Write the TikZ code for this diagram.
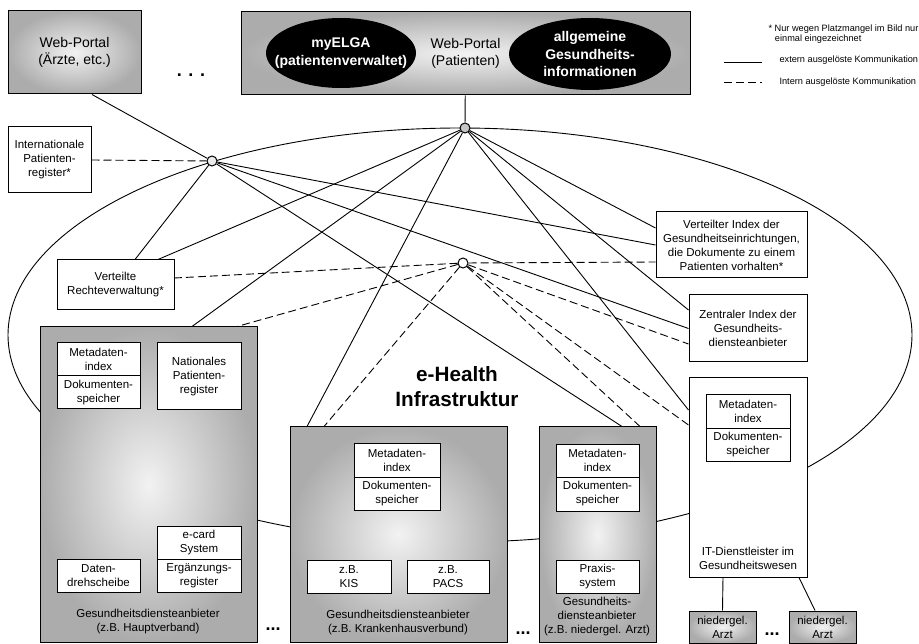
\documentclass[tikz,border=0pt]{standalone}
\usepackage{fontspec}
\setmainfont{Liberation Sans}
\usepackage{tikz}
\usetikzlibrary{shapes.geometric,calc}
\pgfdeclarelayer{background}
\pgfsetlayers{background,main}
\newcommand{\smalltext}{\fontsize{11.5}{14}\selectfont}
\newcommand{\bigtext}{\fontsize{14}{17.5}\selectfont}
\newcommand{\legendtext}{\fontsize{9.2}{10.5}\selectfont}
\newcommand{\headtext}{\fontsize{20.7}{25}\selectfont\bfseries}

\begin{document}
\begin{tikzpicture}[x=1pt,y=-1pt]
\tikzstyle{box}=[draw,line width=1pt,fill=white,align=center,inner sep=0pt,font=\smalltext]
\tikzstyle{greybox}=[draw,line width=1pt,align=center,inner sep=0pt,font=\smalltext,shade,inner color=gray!10,outer color=gray!65]
\tikzstyle{hub}=[circle,draw,line width=1pt,inner sep=0pt,minimum size=10pt]
\tikzstyle{extern}=[line width=0.9pt]
\tikzstyle{intern}=[line width=0.9pt,dash pattern=on 8pt off 4pt]
\tikzstyle{more}=[font=\fontsize{18}{18}\selectfont\bfseries]
\tikzstyle{blob}=[ellipse,fill=black,inner sep=0pt]
\useasboundingbox (0,0) rectangle (919,644);

% web portals
\node[greybox,font=\bigtext,minimum width=133pt,minimum height=83pt] (webA) at (74.5,52.5) {Web-Portal\\(Ärzte, etc.)};
\node[more] (moreA) at (191,75) {. . .};
\node[greybox,font=\bigtext,minimum width=449pt,minimum height=83pt] (webP) at (465.5,53.5) {Web-Portal\\(Patienten)};
\node[blob,minimum width=150pt,minimum height=70pt] (myelga) at (341,53) {};
\node[font=\bigtext\bfseries,text=white,align=center] (myelgaT) at (myelga) {myELGA\\(patientenverwaltet)};
\node[blob,minimum width=162pt,minimum height=72pt] (info) at (590,54) {};
\node[font=\bigtext\bfseries,text=white,align=center] (infoT) at (info) {allgemeine\\Gesundheits-\\informationen};

% legend
\node[font=\legendtext,align=left,anchor=north west] (note) at (765,21) {* Nur wegen Platzmangel im Bild nur\\\hspace*{0.7em}einmal eingezeichnet};
\coordinate (extA) at (724,62);
\coordinate (extB) at (762,62);
\node[font=\legendtext,anchor=west] (extT) at (776,60) {extern ausgelöste Kommunikation};
\coordinate (intA) at (724,82);
\coordinate (intB) at (762,82);
\node[font=\legendtext,anchor=west] (intT) at (776,82) {Intern ausgelöste Kommunikation};
\draw[extern] (extA) -- (extB);
\draw[intern] (intA) -- (intB);

% hubs
\node[hub,fill=gray!45] (hubP) at (465,128) {};
\node[hub,fill=gray!15] (hubL) at (212,161) {};
\node[hub,fill=white] (hubM) at (463,263) {};

% central services
\node[box,minimum width=83pt,minimum height=66pt] (intl) at (49.5,160) {Internationale\\Patienten-\\register*};
\node[box,minimum width=117pt,minimum height=50pt] (recht) at (115.5,285) {Verteilte\\Rechteverwaltung*};
\node[box,minimum width=151pt,minimum height=66pt] (vidx) at (731.5,245) {Verteilter Index der\\Gesundheitseinrichtungen,\\die Dokumente zu einem\\Patienten vorhalten*};
\node[box,minimum width=118pt,minimum height=67pt] (zidx) at (748,328.5) {Zentraler Index der\\Gesundheits-\\diensteanbieter};
\node[font=\headtext,align=center] (ehealth) at (457,387) {e-Health\\Infrastruktur};

% IT-Dienstleister
\node[box,minimum width=118pt,minimum height=199pt] (itd) at (748,477.5) {};
\node[box,minimum width=84pt,minimum height=33.5pt] (meta4) at (748,411.5) {Metadaten-\\index};
\node[box,minimum width=84pt,minimum height=33.5pt] (doc4) at (748,445) {Dokumenten-\\speicher};
\node[font=\smalltext,align=center] (itdT) at (748,558) {IT-Dienstleister im\\Gesundheitswesen};
\node[greybox,minimum width=67pt,minimum height=32pt] (arzt1) at (722.5,627) {niedergel.\\Arzt};
\node[more] (moreD) at (772,634) {...};
\node[greybox,minimum width=67pt,minimum height=32pt] (arzt2) at (822.5,627) {niedergel.\\Arzt};

% Hauptverband
\node[greybox,minimum width=217pt,minimum height=315pt] (gsd1) at (148.5,484.5) {};
\node[box,minimum width=83pt,minimum height=33pt] (meta1) at (98.5,359.5) {Metadaten-\\index};
\node[box,minimum width=83pt,minimum height=33pt] (doc1) at (98.5,392.5) {Dokumenten-\\speicher};
\node[box,minimum width=84pt,minimum height=67pt] (npr) at (199,376.5) {Nationales\\Patienten-\\register};
\node[box,minimum width=83pt,minimum height=33pt] (dd) at (98.5,575.5) {Daten-\\drehscheibe};
\node[box,minimum width=84pt,minimum height=33pt] (ecard) at (199,542.5) {e-card\\System};
\node[box,minimum width=84pt,minimum height=33pt] (erg) at (199,575.5) {Ergänzungs-\\register};
\node[font=\smalltext,align=center] (gsd1T) at (148,622) {Gesundheitsdiensteanbieter\\(z.B. Hauptverband)};
\node[more] (moreB) at (273,629) {...};

% Krankenhausverbund
\node[greybox,minimum width=217pt,minimum height=215pt] (gsd2) at (398.5,534.5) {};
\node[box,minimum width=86pt,minimum height=34pt] (meta2) at (397,460) {Metadaten-\\index};
\node[box,minimum width=86pt,minimum height=33pt] (doc2) at (397,493.5) {Dokumenten-\\speicher};
\node[box,minimum width=84pt,minimum height=33pt] (kis) at (349,576.5) {z.B.\\KIS};
\node[box,minimum width=82pt,minimum height=33pt] (pacs) at (448,576.5) {z.B.\\PACS};
\node[font=\smalltext,align=center] (gsd2T) at (398,623) {Gesundheitsdiensteanbieter\\(z.B. Krankenhausverbund)};
\node[more] (moreC) at (523,633) {...};

% niedergelassener Arzt
\node[greybox,minimum width=117pt,minimum height=215pt] (gsd3) at (597.5,534.5) {};
\node[box,minimum width=83pt,minimum height=33pt] (meta3) at (597.5,460.5) {Metadaten-\\index};
\node[box,minimum width=83pt,minimum height=34pt] (doc3) at (597.5,494) {Dokumenten-\\speicher};
\node[box,minimum width=83pt,minimum height=33pt] (praxis) at (597.5,576.5) {Praxis-\\system};
\node[font=\smalltext,align=center] (gsd3T) at (597,617) {Gesundheits-\\diensteanbieter\\(z.B. niedergel. Arzt)};

\begin{pgfonlayer}{background}
\draw[line width=0.9pt] (460,335) ellipse [x radius=452, y radius=207];
\draw[extern] (webP) -- (hubP);
\draw[extern] ([xshift=17.5pt]webA.south) -- (hubL);
\draw[extern] ([xshift=19.5pt]recht.north) -- (hubL);
\draw[extern] (hubL) -- (vidx.west);
\draw[extern] (hubL) -- (zidx.west);
\draw[extern] (hubL) -- ([xshift=24.5pt]gsd3.north);
\draw[extern] (hubP) -- ([xshift=42.5pt]recht.north);
\draw[extern] (hubP) -- ([xshift=43.5pt]gsd1.north);
\draw[extern] (hubP) -- ([xshift=-91.5pt]gsd2.north);
\draw[extern] (hubP) -- ([yshift=17pt]vidx.west);
\draw[extern] (hubP) -- ([yshift=18.5pt]zidx.west);
\draw[extern] (hubP) -- ([yshift=67.5pt]itd.west);
\draw[intern] (intl.east) -- (hubL);
\draw[intern] (hubM) -- ([yshift=7pt]recht.east);
\draw[intern] (hubM) -- ([xshift=88.5pt]gsd1.north);
\draw[intern] (hubM) -- ([xshift=-74.5pt]gsd2.north);
\draw[intern] (hubM) -- ([yshift=-17pt]vidx.west);
\draw[intern] (hubM) -- ([yshift=-15.5pt]zidx.west);
\draw[intern] (hubM) -- ([xshift=42.5pt]gsd3.north);
\draw[intern] (hubM) -- ([yshift=52.5pt]itd.west);
\draw[extern] ([xshift=-25pt]itd.south) -- (arzt1.north);
\draw[extern] ([xshift=51pt]itd.south) -- ([xshift=-7.5pt]arzt2.north);
\draw[extern] (doc1) -- (dd);
\draw[extern] (npr) -- (ecard);
\draw[extern] ([xshift=-24pt]doc2.south) -- ([xshift=-24pt]doc2.south |- kis.north);
\draw[extern] ([xshift=27pt]doc2.south) -- ([xshift=27pt]doc2.south |- pacs.north);
\draw[extern] (doc3) -- (praxis);
\end{pgfonlayer}
\end{tikzpicture}
\end{document}
